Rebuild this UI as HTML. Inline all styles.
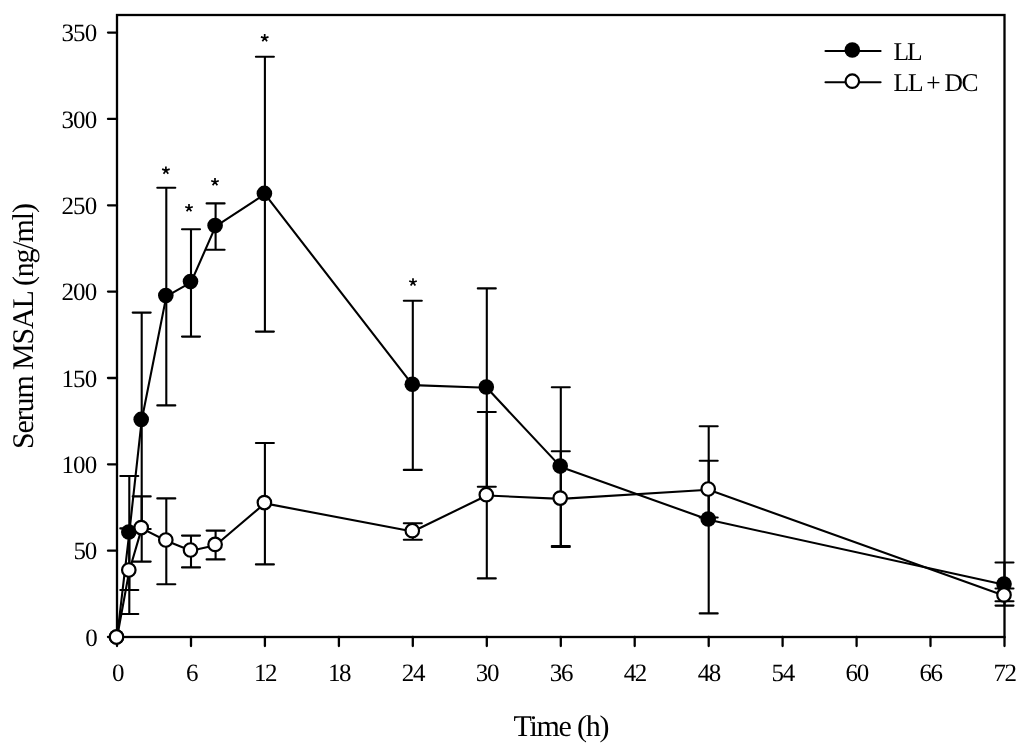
<!DOCTYPE html>
<html><head><meta charset="utf-8"><title>chart</title>
<style>
html,body{margin:0;padding:0;background:#fff;}
body{width:1024px;height:750px;overflow:hidden;}
svg{display:block;will-change:transform;}
text{font-family:"Liberation Serif",serif;fill:#000;text-rendering:geometricPrecision;}
</style></head><body>
<svg width="1024" height="750" viewBox="0 0 1024 750">
<rect x="0" y="0" width="1024" height="750" fill="#fff"/>
<g stroke="#000" stroke-width="2.3" fill="none" stroke-linecap="round">
<rect x="117.0" y="15.0" width="887.5" height="622.0" stroke-linejoin="miter"/>
<line x1="108" y1="637.0" x2="117.0" y2="637.0"/>
<line x1="108" y1="550.7" x2="117.0" y2="550.7"/>
<line x1="108" y1="464.3" x2="117.0" y2="464.3"/>
<line x1="108" y1="378.0" x2="117.0" y2="378.0"/>
<line x1="108" y1="291.6" x2="117.0" y2="291.6"/>
<line x1="108" y1="205.3" x2="117.0" y2="205.3"/>
<line x1="108" y1="118.9" x2="117.0" y2="118.9"/>
<line x1="108" y1="32.6" x2="117.0" y2="32.6"/>
<line x1="117.0" y1="637.0" x2="117.0" y2="646"/>
<line x1="191.0" y1="637.0" x2="191.0" y2="646"/>
<line x1="264.9" y1="637.0" x2="264.9" y2="646"/>
<line x1="338.9" y1="637.0" x2="338.9" y2="646"/>
<line x1="412.8" y1="637.0" x2="412.8" y2="646"/>
<line x1="486.8" y1="637.0" x2="486.8" y2="646"/>
<line x1="560.8" y1="637.0" x2="560.8" y2="646"/>
<line x1="634.7" y1="637.0" x2="634.7" y2="646"/>
<line x1="708.7" y1="637.0" x2="708.7" y2="646"/>
<line x1="782.6" y1="637.0" x2="782.6" y2="646"/>
<line x1="856.6" y1="637.0" x2="856.6" y2="646"/>
<line x1="930.5" y1="637.0" x2="930.5" y2="646"/>
<line x1="1004.5" y1="637.0" x2="1004.5" y2="646"/>
</g>
<g font-size="25" class="t">
<text x="85.3" y="645.6">0</text>
<text x="73.4" y="559.3" textLength="23.8" lengthAdjust="spacing">50</text>
<text x="61.5" y="472.9" textLength="35.7" lengthAdjust="spacing">100</text>
<text x="61.5" y="386.6" textLength="35.7" lengthAdjust="spacing">150</text>
<text x="61.5" y="300.2" textLength="35.7" lengthAdjust="spacing">200</text>
<text x="61.5" y="213.9" textLength="35.7" lengthAdjust="spacing">250</text>
<text x="61.5" y="127.5" textLength="35.7" lengthAdjust="spacing">300</text>
<text x="61.5" y="41.2" textLength="35.7" lengthAdjust="spacing">350</text>
<text x="111.9" y="680.7">0</text>
<text x="185.9" y="680.7">6</text>
<text x="253.9" y="680.7" textLength="23.6" lengthAdjust="spacing">12</text>
<text x="327.9" y="680.7" textLength="23.6" lengthAdjust="spacing">18</text>
<text x="401.8" y="680.7" textLength="23.6" lengthAdjust="spacing">24</text>
<text x="475.8" y="680.7" textLength="23.6" lengthAdjust="spacing">30</text>
<text x="549.8" y="680.7" textLength="23.6" lengthAdjust="spacing">36</text>
<text x="623.7" y="680.7" textLength="23.6" lengthAdjust="spacing">42</text>
<text x="697.7" y="680.7" textLength="23.6" lengthAdjust="spacing">48</text>
<text x="771.6" y="680.7" textLength="23.6" lengthAdjust="spacing">54</text>
<text x="845.6" y="680.7" textLength="23.6" lengthAdjust="spacing">60</text>
<text x="919.5" y="680.7" textLength="23.6" lengthAdjust="spacing">66</text>
<text x="993.5" y="680.7" textLength="23.6" lengthAdjust="spacing">72</text>
</g>
<text x="513.4" y="736.2" font-size="30" textLength="96" lengthAdjust="spacing">Time (h)</text>
<text transform="translate(33,449) rotate(-90)" font-size="30" textLength="246" lengthAdjust="spacing">Serum MSAL (ng/ml)</text>
<g stroke="#000" stroke-width="2.1" fill="none" stroke-linecap="round" stroke-linejoin="round">
<path d="M129.3 476 V590 M120.3 476 H138.3 M120.3 590 H138.3"/>
<path d="M141.7 312.6 V529 M132.7 312.6 H150.7 M132.7 529 H150.7"/>
<path d="M166.3 187.7 V405.4 M157.3 187.7 H175.3 M157.3 405.4 H175.3"/>
<path d="M191.0 229.2 V336.6 M182.0 229.2 H200.0 M182.0 336.6 H200.0"/>
<path d="M215.6 203.4 V249.8 M206.6 203.4 H224.6 M206.6 249.8 H224.6"/>
<path d="M264.9 56.8 V331.6 M255.9 56.8 H273.9 M255.9 331.6 H273.9"/>
<path d="M412.8 300.7 V469.9 M403.8 300.7 H421.8 M403.8 469.9 H421.8"/>
<path d="M486.8 288.4 V486.7 M477.8 288.4 H495.8 M477.8 486.7 H495.8"/>
<path d="M560.8 387.2 V546.0 M551.8 387.2 H569.8 M551.8 546.0 H569.8"/>
<path d="M708.7 426.2 V613.4 M699.7 426.2 H717.7 M699.7 613.4 H717.7"/>
<path d="M1004.5 562.5 V605.6 M995.5 562.5 H1013.5 M995.5 605.6 H1013.5"/>
<polyline points="117.0,637.8 129.3,532.8 141.7,420.2 166.3,296.4 191.0,282.4 215.6,226.4 264.9,194.2 412.8,385.1 486.8,387.8 560.8,466.9 708.7,519.8 1004.5,584.8"/>
</g>
<circle cx="116.5" cy="637" r="7.8" fill="#000"/>
<circle cx="128.8" cy="532" r="7.8" fill="#000"/>
<circle cx="141.2" cy="419.4" r="7.8" fill="#000"/>
<circle cx="165.8" cy="295.6" r="7.8" fill="#000"/>
<circle cx="190.5" cy="281.6" r="7.8" fill="#000"/>
<circle cx="215.1" cy="225.6" r="7.8" fill="#000"/>
<circle cx="264.4" cy="193.4" r="7.8" fill="#000"/>
<circle cx="412.3" cy="384.3" r="7.8" fill="#000"/>
<circle cx="486.3" cy="387" r="7.8" fill="#000"/>
<circle cx="560.2" cy="466.1" r="7.8" fill="#000"/>
<circle cx="708.2" cy="519" r="7.8" fill="#000"/>
<circle cx="1004.0" cy="584" r="7.8" fill="#000"/>
<g stroke="#000" stroke-width="2.1" fill="none" stroke-linecap="round" stroke-linejoin="round">
<path d="M129.3 528.4 V614 M120.3 528.4 H138.3 M120.3 614 H138.3"/>
<path d="M141.7 496.4 V561.6 M132.7 496.4 H150.7 M132.7 561.6 H150.7"/>
<path d="M166.3 498.4 V584.2 M157.3 498.4 H175.3 M157.3 584.2 H175.3"/>
<path d="M191.0 535.6 V567.4 M182.0 535.6 H200.0 M182.0 567.4 H200.0"/>
<path d="M215.6 530.6 V559.4 M206.6 530.6 H224.6 M206.6 559.4 H224.6"/>
<path d="M264.9 443 V564.4 M255.9 443 H273.9 M255.9 564.4 H273.9"/>
<path d="M412.8 523.2 V539.7 M403.8 523.2 H421.8 M403.8 539.7 H421.8"/>
<path d="M486.8 412 V578.4 M477.8 412 H495.8 M477.8 578.4 H495.8"/>
<path d="M560.8 451.2 V547.0 M551.8 451.2 H569.8 M551.8 547.0 H569.8"/>
<path d="M708.7 460.8 V517.5 M699.7 460.8 H717.7 M699.7 517.5 H717.7"/>
<path d="M1004.5 588.5 V601.3 M995.5 588.5 H1013.5 M995.5 601.3 H1013.5"/>
<polyline points="117.0,637.8 129.3,570.8 141.7,528.4 166.3,540.8 191.0,550.8 215.6,545.2 264.9,503.4 412.8,531.5 486.8,495.5 560.8,498.9 708.7,489.8 1004.5,595.7"/>
</g>
<circle cx="116.5" cy="637" r="6.75" fill="#fff" stroke="#000" stroke-width="2.2"/>
<circle cx="128.8" cy="570" r="6.75" fill="#fff" stroke="#000" stroke-width="2.2"/>
<circle cx="141.2" cy="527.6" r="6.75" fill="#fff" stroke="#000" stroke-width="2.2"/>
<circle cx="165.8" cy="540" r="6.75" fill="#fff" stroke="#000" stroke-width="2.2"/>
<circle cx="190.5" cy="550" r="6.75" fill="#fff" stroke="#000" stroke-width="2.2"/>
<circle cx="215.1" cy="544.4" r="6.75" fill="#fff" stroke="#000" stroke-width="2.2"/>
<circle cx="264.4" cy="502.6" r="6.75" fill="#fff" stroke="#000" stroke-width="2.2"/>
<circle cx="412.3" cy="530.7" r="6.75" fill="#fff" stroke="#000" stroke-width="2.2"/>
<circle cx="486.3" cy="494.7" r="6.75" fill="#fff" stroke="#000" stroke-width="2.2"/>
<circle cx="560.2" cy="498.1" r="6.75" fill="#fff" stroke="#000" stroke-width="2.2"/>
<circle cx="708.2" cy="489" r="6.75" fill="#fff" stroke="#000" stroke-width="2.2"/>
<circle cx="1004.0" cy="594.9" r="6.75" fill="#fff" stroke="#000" stroke-width="2.2"/>
<path d="M165.9 170.4 L165.90 166.40 M165.9 170.4 L169.70 169.16 M165.9 170.4 L168.25 173.64 M165.9 170.4 L163.55 173.64 M165.9 170.4 L162.10 169.16 " stroke="#000" stroke-width="1.7" fill="none" stroke-linecap="butt"/>
<path d="M189.0 208.0 L189.00 204.00 M189.0 208.0 L192.80 206.76 M189.0 208.0 L191.35 211.24 M189.0 208.0 L186.65 211.24 M189.0 208.0 L185.20 206.76 " stroke="#000" stroke-width="1.7" fill="none" stroke-linecap="butt"/>
<path d="M215.0 182.0 L215.00 178.00 M215.0 182.0 L218.80 180.76 M215.0 182.0 L217.35 185.24 M215.0 182.0 L212.65 185.24 M215.0 182.0 L211.20 180.76 " stroke="#000" stroke-width="1.7" fill="none" stroke-linecap="butt"/>
<path d="M264.7 38.1 L264.70 34.10 M264.7 38.1 L268.50 36.86 M264.7 38.1 L267.05 41.34 M264.7 38.1 L262.35 41.34 M264.7 38.1 L260.90 36.86 " stroke="#000" stroke-width="1.7" fill="none" stroke-linecap="butt"/>
<path d="M413.0 282.3 L413.00 278.30 M413.0 282.3 L416.80 281.06 M413.0 282.3 L415.35 285.54 M413.0 282.3 L410.65 285.54 M413.0 282.3 L409.20 281.06 " stroke="#000" stroke-width="1.7" fill="none" stroke-linecap="butt"/>
<g stroke="#000" stroke-width="2.1" stroke-linecap="round">
<line x1="825.5" y1="51" x2="880.6" y2="51"/>
<line x1="825.5" y1="82.2" x2="880.6" y2="82.2"/>
</g>
<circle cx="852.3" cy="50" r="7.8" fill="#000"/>
<circle cx="852.3" cy="81.2" r="6.75" fill="#fff" stroke="#000" stroke-width="2.2"/>
<g font-size="25.5">
<text x="893.6" y="60" textLength="29" lengthAdjust="spacing">LL</text>
<text x="893.6" y="91.2" textLength="85" lengthAdjust="spacing">LL + DC</text>
</g>
</svg>
</body></html>
